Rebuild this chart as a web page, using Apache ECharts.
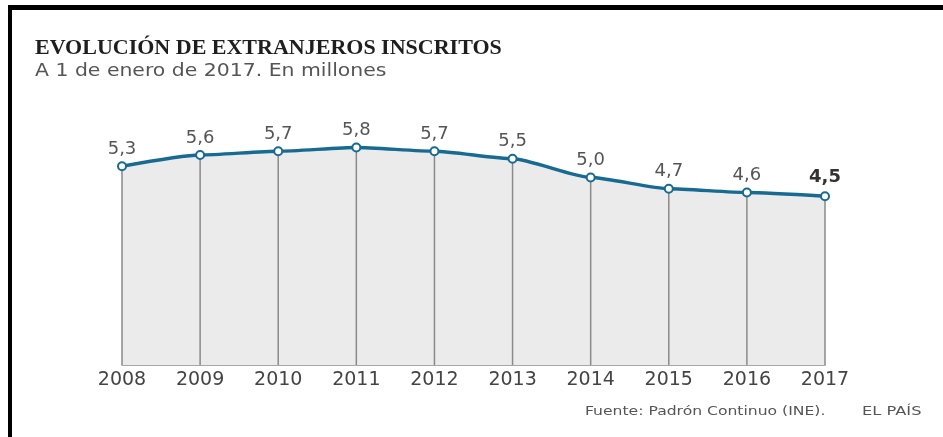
<!DOCTYPE html>
<html>
<head>
<meta charset="utf-8">
<script src="https://cdn.jsdelivr.net/npm/echarts@6/dist/echarts.min.js"></script>
<style>
html,body{margin:0;padding:0;background:#fff;}
#chart{width:943px;height:437px;}
</style>
</head>
<body>
<div id="chart"></div>
<script>
var years = ['2008','2009','2010','2011','2012','2013','2014','2015','2016','2017'];
var values = [5.3, 5.6, 5.7, 5.8, 5.7, 5.5, 5.0, 4.7, 4.6, 4.5];
var titleText = 'EVOLUCIÓN DE EXTRANJEROS INSCRITOS';
var subtitleText = 'A 1 de enero de 2017. En millones';
var sourceText = 'Fuente: Padrón Continuo (INE).';
var brandText = 'EL PAÍS';

var chart = echarts.init(document.getElementById('chart'));
var last = values.length - 1;
var lineData = values.map(function(v, i){
  if (i === last) {
    return {value: v, label: {fontWeight: 'bold', color: '#333', offset: [0, -2]}};
  }
  return v;
});

var option = {
  backgroundColor: '#fff',
  animation: false,
  grid: {left: 122, right: 118, top: 140, bottom: 72},
  xAxis: {
    type: 'category',
    data: years,
    boundaryGap: false,
    axisLine: {show: true, lineStyle: {color: '#8a8a8a', width: 1.5}},
    axisTick: {show: false},
    axisLabel: {color: '#444', fontSize: 19, fontFamily: 'DejaVu Sans', margin: 6},
    splitLine: {show: false}
  },
  yAxis: {
    type: 'value', min: 0, max: 6, show: false, splitLine: {show: false}
  },
  series: [
    {
      type: 'line', data: values, z: 1, silent: true,
      smooth: 0.2, smoothMonotone: 'x',
      symbol: 'none',
      lineStyle: {width: 0, opacity: 0},
      areaStyle: {color: '#ebebeb', opacity: 1}
    },
    {
      type: 'bar', data: values, z: 2, barWidth: 1.5, clip: false,
      itemStyle: {color: '#8a8a8a'}, silent: true
    },
    {
      type: 'line', data: lineData, z: 3,
      smooth: 0.2, smoothMonotone: 'x',
      symbol: 'circle', symbolSize: 8,
      itemStyle: {color: '#fff', borderColor: '#176a92', borderWidth: 2},
      lineStyle: {color: '#176a92', width: 3.5},
      label: {
        show: true, position: 'top', distance: 3,
        fontSize: 18, fontFamily: 'DejaVu Sans', color: '#555',
        formatter: function(p){ return p.value.toFixed(1).replace('.', ','); }
      }
    }
  ],
  graphic: [
    {type: 'rect', shape: {x: 8, y: 5, width: 935, height: 5}, style: {fill: '#000'}, silent: true},
    {type: 'rect', shape: {x: 8, y: 5, width: 4, height: 432}, style: {fill: '#000'}, silent: true},
    {type: 'text', x: 35, y: 48,
      style: {text: titleText, font: 'bold 22px "Liberation Serif"', fill: '#1e1e1e', textVerticalAlign: 'middle'}},
    {type: 'text', x: 35, y: 72, scaleX: 1.2,
      style: {text: subtitleText, font: '17px "DejaVu Sans"', fill: '#555', textVerticalAlign: 'middle'}},
    {type: 'text', x: 585, y: 412, scaleX: 1.2,
      style: {text: sourceText, font: '13px "DejaVu Sans"', fill: '#555', textVerticalAlign: 'middle'}},
    {type: 'text', x: 862, y: 412, scaleX: 1.25,
      style: {text: brandText, font: '13px "DejaVu Sans"', fill: '#555', textVerticalAlign: 'middle'}}
  ]
};
chart.setOption(option);
</script>
</body>
</html>
